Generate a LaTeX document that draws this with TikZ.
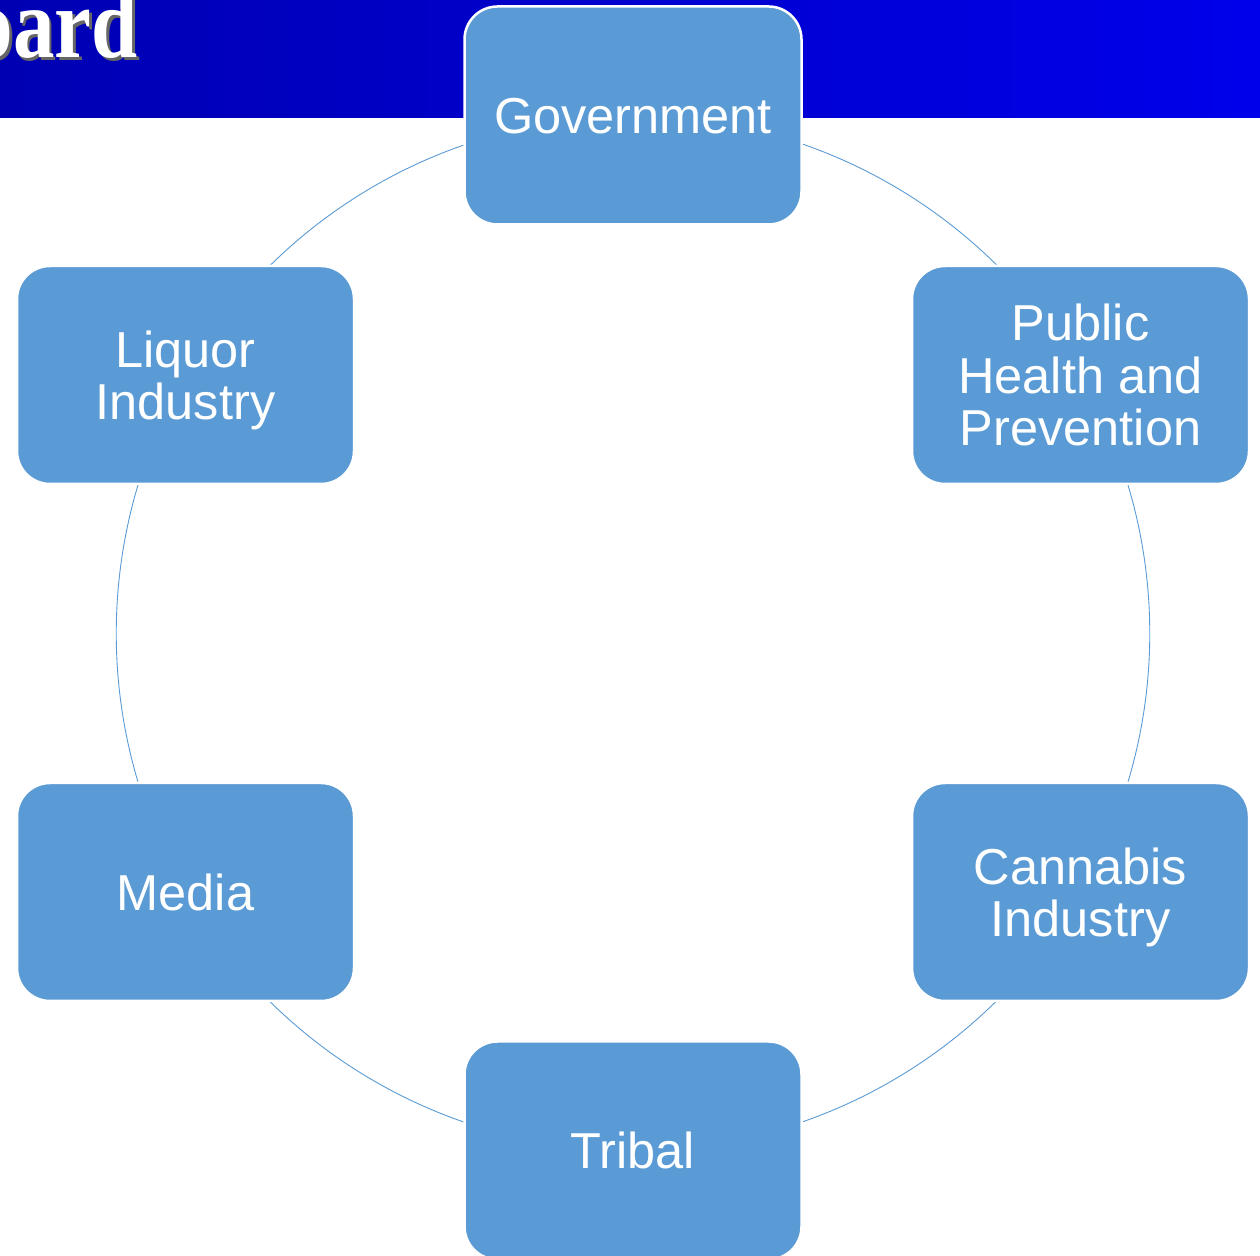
\documentclass[tikz,border=0pt]{standalone}
\usepackage{fontspec}
\setmainfont{Liberation Sans}
\newfontfamily\titlefont[FakeStretch=0.83]{Liberation Serif}
\usetikzlibrary{positioning,backgrounds}
\definecolor{boxblue}{HTML}{5B9BD5}
\definecolor{bandL}{rgb}{0,0,0.70}
\definecolor{bandR}{rgb}{0,0,0.92}

\begin{document}
\begin{tikzpicture}[x=1pt, y=1pt,
  stakeholder/.style={rectangle, rounded corners=33pt, fill=boxblue, draw=white,
    line width=2.5pt, minimum width=337pt, minimum height=218pt, text=white,
    align=center, text depth=0pt, font=\fontsize{50.5}{52.5}\selectfont},
  ring/.style={draw=boxblue, line width=0.9pt}]
\clip (0,0) rectangle (1260,1255);

\node[stakeholder] (gov) at (633,1139.5) {Government};
\node[stakeholder] (pub) at (1080.5,880) {Public\\Health and\\Prevention};
\node[stakeholder] (can) at (1080.5,363) {Cannabis\\Industry};
\node[stakeholder] (tri) at (633,104.5) {Tribal};
\node[stakeholder] (med) at (185.5,363) {Media};
\node[stakeholder] (liq) at (185.5,880) {Liquor\\Industry};

\begin{scope}[on background layer]
  \fill[white] (0,0) rectangle (1260,1255);
  % title band
  \shade[left color=bandL, right color=bandR] (0,1137) rectangle (1260,1255);
  \node[anchor=base east, inner sep=0pt, text=black!60, font=\titlefont\bfseries\fontsize{100}{100}\selectfont]
    (titleshadow) at (140.5,1194.5) {oard};
  \node[anchor=base east, inner sep=0pt, text=white, font=\titlefont\bfseries\fontsize{100}{100}\selectfont]
    (title) at (138,1197) {oard};

  \draw[ring] (gov.center) arc[start angle=90, end angle=30, radius=517pt];
  \draw[ring] (pub.center) arc[start angle=30, end angle=-30, radius=517pt];
  \draw[ring] (can.center) arc[start angle=-30, end angle=-90, radius=517pt];
  \draw[ring] (tri.center) arc[start angle=-90, end angle=-150, radius=517pt];
  \draw[ring] (med.center) arc[start angle=210, end angle=150, radius=517pt];
  \draw[ring] (liq.center) arc[start angle=150, end angle=90, radius=517pt];
\end{scope}
\end{tikzpicture}
\end{document}
